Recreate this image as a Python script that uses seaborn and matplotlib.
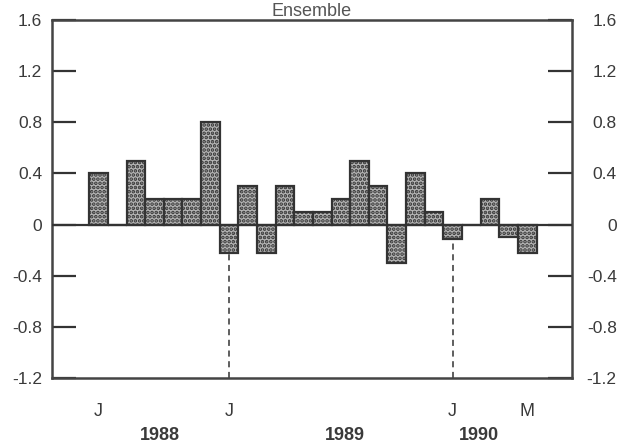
import numpy as np
import pandas as pd
import matplotlib
matplotlib.use("Agg")
import matplotlib.pyplot as plt
import matplotlib.transforms as mtransforms
import seaborn as sns

# monthly values, June 1988 .. May 1990
months = ["1988-06", "1988-07", "1988-08", "1988-09", "1988-10", "1988-11", "1988-12",
          "1989-01", "1989-02", "1989-03", "1989-04", "1989-05", "1989-06", "1989-07",
          "1989-08", "1989-09", "1989-10", "1989-11", "1989-12",
          "1990-01", "1990-02", "1990-03", "1990-04", "1990-05"]
values = [0.4, 0.0, 0.5, 0.2, 0.2, 0.2, 0.8,
          -0.22, 0.3, -0.22, 0.3, 0.1, 0.1, 0.2,
          0.5, 0.3, -0.3, 0.4, 0.1,
          -0.11, 0.0, 0.2, -0.1, -0.22]

tick_months = ["1988-06", "1989-01", "1990-01", "1990-05"]
tick_labels = ["J", "J", "J", "M"]
dashed_months = ["1989-01", "1990-01"]
year_labels = ["1988", "1989", "1990"]
year_pos = [3.3, 13.2, 20.4]
y_ticks = [1.6, 1.2, 0.8, 0.4, 0, -0.4, -0.8, -1.2]

df = pd.DataFrame({"month": months, "value": values})

sns.set_style("white")
plt.rcParams["font.family"] = ["Liberation Sans", "DejaVu Sans"]
plt.rcParams["hatch.linewidth"] = 1.8

ink = "#333333"
fig = plt.figure(figsize=(6.22, 4.43), dpi=100)
ax = fig.add_axes([52 / 622, 1 - 378 / 443, 520 / 622, 358 / 443])

sns.barplot(data=df, x="month", y="value", order=months, width=1.0,
            color="#b4b4b4", saturation=1, edgecolor=ink, linewidth=1.6,
            hatch="....", ax=ax)

ax.axhline(0, color=ink, lw=1.6, zorder=3)
for m in dashed_months:
    i = months.index(m)
    ax.vlines(i, -1.2, values[i], colors=ink, linestyles=(0, (4, 3)), lw=1.1)

ax.set_xlim(-2.5, 25.4)
ax.set_ylim(-1.2, 1.6)
ax.set_yticks(y_ticks)
ax.set_yticklabels(["1.6", "1.2", "0.8", "0.4", "0", "-0.4", "-0.8", "-1.2"])
ax.set_xticks([months.index(m) for m in tick_months])
ax.set_xticklabels(tick_labels)
ax.set_xlabel("")
ax.set_ylabel("")

ax.tick_params(axis="y", direction="in", length=17, width=1.6, color=ink,
               left=True, right=True, labelleft=True, labelright=True,
               labelsize=12.5, labelcolor="#3a3a3a", pad=7)
ax.tick_params(axis="x", length=0, labelsize=13, labelcolor="#3a3a3a", pad=18)

# right-side labels are right aligned
for t in ax.yaxis.get_major_ticks():
    t.label2.set_horizontalalignment("right")
fig.canvas.draw()
off = mtransforms.ScaledTranslation(35 / 100, 0, fig.dpi_scale_trans)
for t in ax.yaxis.get_major_ticks():
    t.label2.set_transform(t.label2.get_transform() + off)

for s in ax.spines.values():
    s.set_visible(True)
    s.set_color("#444444")
    s.set_linewidth(1.8)

trans = mtransforms.blended_transform_factory(ax.transData, ax.transAxes)
for lbl, x in zip(year_labels, year_pos):
    ax.text(x, -0.138, lbl, transform=trans, ha="center", va="top",
            fontsize=13, fontweight="bold", color="#3a3a3a")

ax.set_title("Ensemble", fontsize=13, color="#555555", pad=3)

fig.savefig("out.png", dpi=100)
